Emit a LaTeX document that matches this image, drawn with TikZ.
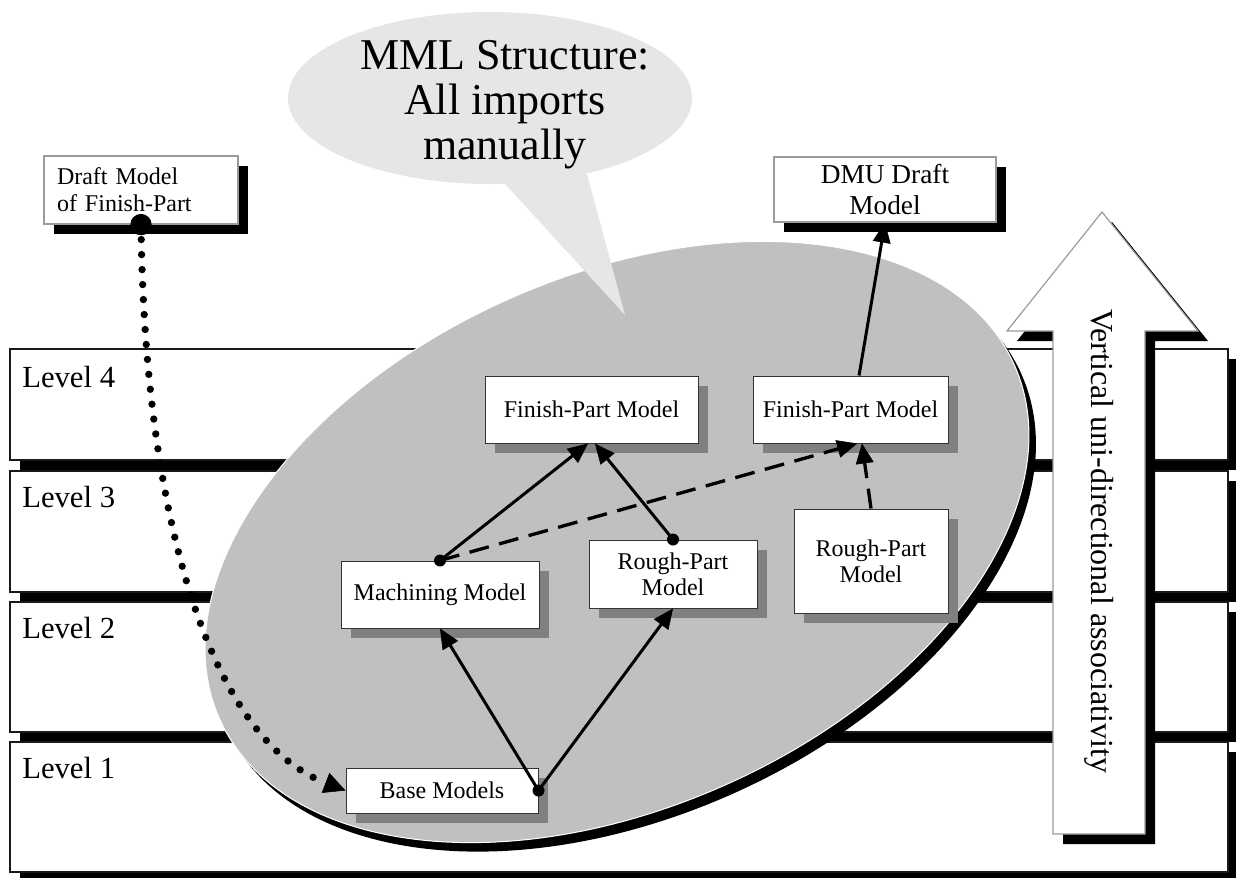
\documentclass[tikz,border=0pt]{standalone}
\usepackage{fontspec}
\setmainfont{Liberation Serif}
\usetikzlibrary{arrows.meta,calc,shapes.geometric}
\definecolor{ellgray}{RGB}{192,192,192}
\definecolor{bubblegray}{RGB}{230,230,230}
\definecolor{shadowgray}{RGB}{128,128,128}
\definecolor{framegray}{RGB}{155,155,155}
\begin{document}
\begin{tikzpicture}[x=0.75pt,y=-0.75pt,
  blackshadow/.style={preaction={fill=black,draw=none,transform canvas={shift={(7.5pt,-7.5pt)}}}},
  grayshadow/.style={preaction={fill=shadowgray,draw=none,transform canvas={shift={(7.5pt,-7.5pt)}}}},
  levelbox/.style={draw=black!90,line width=0.9pt,fill=white,blackshadow},
  leveltext/.style={anchor=north west,inner sep=0pt,font=\fontsize{23}{27}\selectfont},
  modelbox/.style={draw=black!80,line width=0.75pt,fill=white,grayshadow,inner sep=0pt,align=center,font=\fontsize{18}{19.5}\selectfont},
  outbox/.style={draw=framegray,line width=0.9pt,fill=white,blackshadow,inner sep=0pt},
  link/.style={line width=2.25pt,-{Triangle[length=15pt,width=13.5pt,line width=0.4pt]}},
  dashlink/.style={link,line width=2.5pt,dash pattern=on 15pt off 8pt},
  dotlink/.style={line width=5.5pt,line cap=round,dash pattern=on 0pt off 11.25pt,-{Triangle[length=16pt,width=16pt,line width=0.4pt]}},
  startdot/.style={circle,fill=black,inner sep=0pt,minimum size=9pt},
  bigdot/.style={circle,fill=black,inner sep=0pt,minimum size=16pt},
  bigarrow/.style={fill=white,draw=framegray,line width=0.9pt,blackshadow}
]
\useasboundingbox (0,0) rectangle (1236,878);

% levels
\path[levelbox] (10,349) rectangle (1228,460);
\path[levelbox] (10,471) rectangle (1228,592);
\path[levelbox] (10,602) rectangle (1228,732);
\path[levelbox] (10,742) rectangle (1228,872);
\node[leveltext] (lev4) at (22,366) {Level 4};
\node[leveltext] (lev3) at (22,486) {Level 3};
\node[leveltext] (lev2) at (22,617) {Level 2};
\node[leveltext] (lev1) at (22,757) {Level 1};

% big tilted ellipse
\fill[black,shift={(624,551)},rotate=24] (0,0) ellipse [x radius=435,y radius=266];
\filldraw[fill=ellgray,draw=white,line width=0.75pt,shift={(617,542)},rotate=24] (0,0) ellipse [x radius=435,y radius=266];

% callout
\node[ellipse,fill=bubblegray,minimum width=303pt,minimum height=129pt,inner sep=0pt] (bubble) at (490,98) {};
\coordinate (tailtip) at (625,315);
\fill[bubblegray] (bubble.-80) -- (tailtip) -- (bubble.-38) -- cycle;
\node[align=center,inner sep=0pt,font=\fontsize{33}{33.75}\selectfont] (bubbletext) at (505,105) {MML Structure:\\All imports\\manually};

% outer boxes
\node[outbox,minimum width=145.5pt,minimum height=51pt,text width=126pt,inner xsep=9.75pt,align=left,font=\fontsize{18}{20.5}\selectfont] (draft) at (141,190) {Draft Model\\of Finish-Part};
\node[outbox,minimum width=166.5pt,minimum height=48.75pt,align=center,font=\fontsize{20.5}{23.8}\selectfont] (dmu) at (885,189.5) {DMU Draft\\Model};

% model boxes
\node[modelbox,minimum width=159.75pt,minimum height=50.25pt] (fpl) at (591.5,409.5) {Finish-Part Model};
\node[modelbox,minimum width=146.25pt,minimum height=50.25pt] (fpr) at (850.5,409.5) {Finish-Part Model};
\node[modelbox,minimum width=148.5pt,minimum height=50.25pt] (mach) at (440,594.5) {Machining Model};
\node[modelbox,minimum width=126pt,minimum height=51pt] (rpm) at (673,574) {Rough-Part\\Model};
\node[modelbox,minimum width=115.5pt,minimum height=78pt] (rpr) at (871,561) {Rough-Part\\Model};
\node[modelbox,minimum width=144pt,minimum height=33.75pt] (base) at (442,790.5) {Base Models};

% connectors
\draw[dotlink] (draft.south) .. controls +(4,306) and +(-131,-50) .. (base.west);
\draw[link] (base.east) -- (mach.south);
\draw[link] (base.east) -- (rpm.south);
\draw[link] (mach.north) -- ([xshift=-2.6pt]fpl.south);
\draw[link] (rpm.north) -- ([xshift=2.6pt]fpl.south);
\draw[dashlink] (mach.north) -- ([xshift=5pt]fpr.south);
\draw[dashlink] (rpr.north) -- ([xshift=8.6pt]fpr.south);
\draw[link] ([xshift=6.4pt]fpr.north) -- (dmu.south);

\node[bigdot] (draftdot) at (draft.south) {};
\node[startdot] (basedot) at (base.east) {};
\node[startdot] (machdot) at (mach.north) {};
\node[startdot] (rpmdot) at (rpm.north) {};

% big vertical arrow
\path[bigarrow] (1053,834) -- (1053,331) -- (1007,331) -- (1102,212) -- (1198,331) -- (1145,331) -- (1145,834) -- cycle;
\node[rotate=-90,inner sep=0pt,font=\fontsize{24}{28}\selectfont] (vtext) at (1099,541) {Vertical uni-directional associativity};
\end{tikzpicture}
\end{document}
